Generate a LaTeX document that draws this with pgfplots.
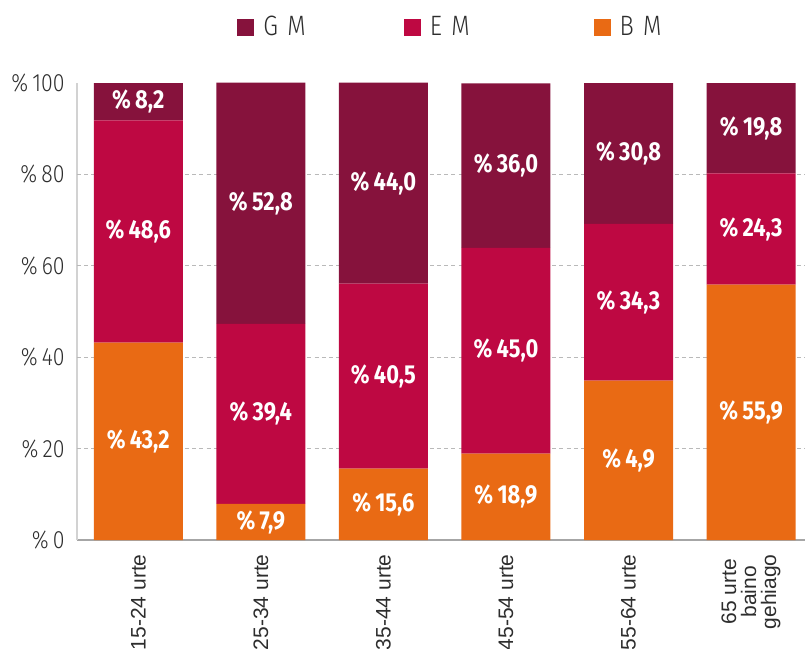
\documentclass[border=0pt]{standalone}
\usepackage{fontspec}
\setmainfont{Liberation Sans}
\newfontfamily\light[FakeStretch=0.85, UprightFont={* Light}]{Fira Sans}
\newfontfamily\condb[FakeStretch=0.84]{Fira Sans Bold}
\usepackage{pgfplots}
\pgfplotsset{compat=1.18}
\usepackage{pgfplotstable}

\definecolor{gmcol}{RGB}{134,18,60}
\definecolor{emcol}{RGB}{190,8,66}
\definecolor{bmcol}{RGB}{233,106,20}
\definecolor{txt}{RGB}{45,45,45}

% one table per series: x position, share (%), printed label
\pgfplotstableread{
x y label
0 43.2 43,2
1 7.9 7,9
2 15.6 15,6
3 18.9 18,9
4 34.9 4,9
5 55.9 55,9
}\tbm
\pgfplotstableread{
x y label
0 48.6 48,6
1 39.4 39,4
2 40.5 40,5
3 45.0 45,0
4 34.3 34,3
5 24.3 24,3
}\tem
\pgfplotstableread{
x y label
0 8.2 8,2
1 52.8 52,8
2 44.0 44,0
3 36.0 36,0
4 30.8 30,8
5 19.8 19,8
}\tgm

\begin{document}
\begin{tikzpicture}
\begin{axis}[
    scale only axis,
    width=364pt, height=228.5pt,
    ybar stacked, bar width=44.5pt,
    xmin=-0.5, xmax=5.44,
    ymin=0, ymax=100,
    clip=false,
    axis x line*=bottom, axis y line*=left,
    x axis line style={gray!70, line width=1pt, -},
    y axis line style={gray!35, line width=1pt, -},
    xtick={0,1,2,3,4,5},
    xticklabels={15-24 urte,25-34 urte,35-44 urte,45-54 urte,55-64 urte,{65 urte\\baino\\gehiago}},
    xticklabel style={rotate=90, anchor=east, align=center, font=\fontsize{10.5}{10}\selectfont, text=txt, inner sep=0pt},
    xticklabel shift=7pt,
    ytick={0,20,40,60,80,100},
    yticklabel={\%\,\pgfmathprintnumber[assume math mode=true]{\tick}},
    yticklabel style={font=\light\fontsize{12.5}{12}\selectfont, text=txt, inner sep=0pt},
    yticklabel shift=6pt,
    major tick length=0pt,
    extra y ticks={20,40,60,80},
    extra y tick labels={},
    extra y tick style={grid=major, major grid style={gray!55, dash pattern=on 2pt off 1.6pt, line width=0.5pt}},
    point meta=explicit symbolic,
    nodes near coords={\%\,\pgfplotspointmeta},
    every node near coord/.append style={anchor=center, text=white, font=\condb\fontsize{13}{13}\selectfont},
    legend columns=3,
    reverse legend,
    legend style={at={(0.2198,1)}, anchor=west, yshift=28pt, draw=none, fill=none, inner sep=0pt,
        font=\light\fontsize{14}{14}\selectfont, text=txt,
        /tikz/every even column/.append style={column sep=0pt}},
    legend image code/.code={\fill[#1] (0pt,-4.25pt) rectangle (8.5pt,4.25pt);},
]
\addplot[fill=bmcol, draw=none] table[x=x, y=y, meta=label] {\tbm};
\addlegendentry{\hspace*{2.5pt}B\,\,M}
\addplot[fill=emcol, draw=none] table[x=x, y=y, meta=label] {\tem};
\addlegendentry{\hspace*{2.5pt}E\,\,M\hspace*{60pt}}
\addplot[fill=gmcol, draw=none] table[x=x, y=y, meta=label] {\tgm};
\addlegendentry{\hspace*{2.5pt}G\,\,M\hspace*{47pt}}
\end{axis}
\pgfresetboundingbox
\path[use as bounding box] ([shift={(-38.5pt,-54.5pt)}]current axis.south west) rectangle ([shift={(364pt,270pt)}]current axis.south west);
\end{tikzpicture}
\end{document}
